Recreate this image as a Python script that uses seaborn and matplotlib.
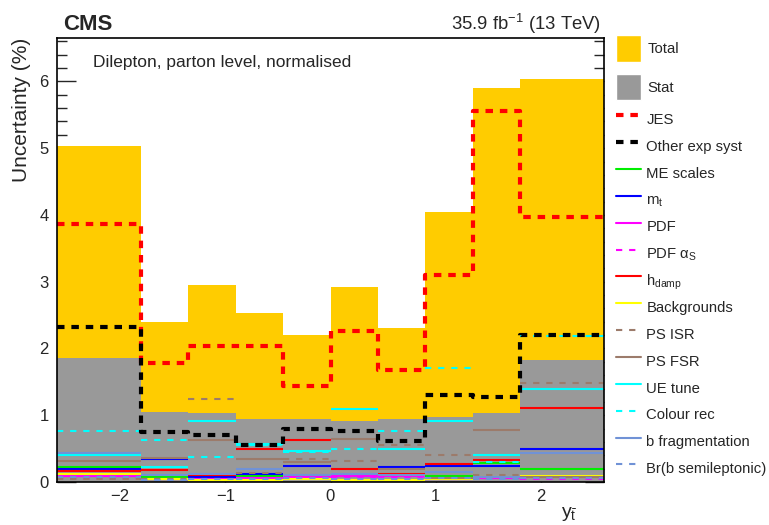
import numpy as np
import seaborn as sns
import matplotlib.pyplot as plt
from matplotlib.patches import Patch
from matplotlib.lines import Line2D

# bin edges of y(tbar) and per-bin uncertainties (%)
edges = [-2.6, -1.8, -1.35, -0.9, -0.45, 0.0, 0.45, 0.9, 1.35, 1.8, 2.6]

total = [5.03, 2.40, 2.95, 2.53, 2.20, 2.92, 2.30, 4.05, 5.90, 6.04]
stat = [1.85, 1.05, 1.03, 0.94, 0.94, 0.92, 0.94, 0.97, 1.03, 1.83]
jes = [3.86, 1.78, 2.03, 2.03, 1.44, 2.26, 1.67, 3.10, 5.56, 3.97]
other_exp = [2.32, 0.75, 0.70, 0.56, 0.80, 0.77, 0.62, 1.31, 1.28, 2.20]
me_scales = [0.22, 0.07, 0.05, 0.085, 0.085, 0.10, 0.035, 0.095, 0.29, 0.195]
m_top = [0.20, 0.35, 0.08, 0.125, 0.245, 0.095, 0.225, 0.235, 0.24, 0.50]
pdf = [0.09, 0.04, 0.05, 0.06, 0.07, 0.09, 0.09, 0.05, 0.06, 0.07]
pdf_alphas = [0.065, 0.05, 0.04, 0.065, 0.085, 0.07, 0.08, 0.04, 0.06, 0.05]
hdamp = [0.16, 0.18, 0.10, 0.49, 0.63, 0.195, 0.125, 0.275, 0.33, 1.11]
backgrounds = [0.12, 0.05, 0.03, 0.03, 0.04, 0.03, 0.035, 0.04, 0.08, 0.085]
ps_isr = [0.05, 0.05, 1.24, 0.14, 0.35, 0.32, 0.56, 0.40, 0.10, 1.48]
ps_fsr = [0.31, 0.36, 0.63, 0.34, 0.30, 0.64, 0.195, 0.06, 0.78, 0.07]
ue_tune = [0.40, 0.23, 0.91, 0.57, 0.46, 1.09, 0.50, 0.91, 0.40, 1.39]
colour_rec = [0.76, 0.63, 0.38, 0.55, 0.45, 0.49, 0.76, 1.70, 0.30, 2.19]
b_frag = [0.43, 0.10, 0.12, 0.20, 0.10, 0.12, 0.10, 0.15, 0.08, 0.43]
br_semilep = [0.08, 0.03, 0.04, 0.05, 0.06, 0.05, 0.05, 0.06, 0.04, 0.06]

centers = 0.5 * (np.array(edges[:-1]) + np.array(edges[1:]))

sns.set_style("ticks")
plt.rcParams['font.family'] = ['Liberation Sans', 'DejaVu Sans']
plt.rcParams['mathtext.fontset'] = 'custom'
plt.rcParams['mathtext.rm'] = 'Liberation Sans'
plt.rcParams['mathtext.it'] = 'Liberation Sans:italic'

fig = plt.figure(figsize=(7.69, 5.25), dpi=100)
ax = fig.add_axes([57 / 769, 43 / 525, 547 / 769, 444 / 525])

brown = '#9c7b6b'
lblue = '#7092d6'
thin_dash = (3, 3.3)
thick_dash = (1.8, 1.65)

# filled bands
sns.histplot(x=centers, weights=total, bins=edges, element='step', fill=True,
             color='#ffcc00', alpha=1, linewidth=0, ax=ax)
sns.histplot(x=centers, weights=stat, bins=edges, element='step', fill=True,
             color='#999999', alpha=1, linewidth=0, ax=ax)

# (values, colour, dashed?, label)
thin = [
    (me_scales, '#00ee00', False, 'ME scales'),
    (m_top, '#0000ff', False, r'm$_{\mathrm{t}}$'),
    (pdf, '#ff00ff', False, 'PDF'),
    (pdf_alphas, '#ff00ff', True, r'PDF α$_{\mathrm{S}}$'),
    (hdamp, '#ff0000', False, r'h$_{\mathrm{damp}}$'),
    (backgrounds, '#ffff00', False, 'Backgrounds'),
    (ps_isr, brown, True, 'PS ISR'),
    (ps_fsr, brown, False, 'PS FSR'),
    (ue_tune, '#00ffff', False, 'UE tune'),
    (colour_rec, '#00ffff', True, 'Colour rec'),
    (b_frag, lblue, False, 'b fragmentation'),
    (br_semilep, lblue, True, 'Br(b semileptonic)'),
]

# thin systematics: flat segments per bin, no vertical connectors
for vals, col, dashed, lab in thin:
    ls = (0, thin_dash) if dashed else 'solid'
    ax.hlines(vals, edges[:-1], edges[1:], colors=col, linewidth=1.5, linestyles=ls)

sns.histplot(x=centers, weights=jes, bins=edges, element='step', fill=False,
             color='#ff0000', linewidth=3, dashes=thick_dash, ax=ax)
sns.histplot(x=centers, weights=other_exp, bins=edges, element='step', fill=False,
             color='#000000', linewidth=3, dashes=thick_dash, ax=ax)

ax.set_xlim(-2.6, 2.6)
ax.set_ylim(0, 6.65)
ax.set_xticks([-2, -1, 0, 1, 2])
ax.set_yticks(range(0, 7))
ax.set_yticks(np.arange(0, 6.65, 0.2), minor=True)
ax.tick_params(axis='y', which='both', direction='in', left=True, right=True, labelsize=12, pad=6)
ax.tick_params(axis='y', which='major', length=14, width=1)
ax.tick_params(axis='y', which='minor', length=7, width=1)
ax.tick_params(axis='x', which='major', direction='in', length=9, width=1, labelsize=12, pad=5)
for sp in ax.spines.values():
    sp.set_visible(True)
    sp.set_linewidth(1.2)
    sp.set_color('black')

ax.set_ylabel('Uncertainty (%)', fontsize=15, loc='top')
ax.yaxis.set_label_coords(-0.047, 1.0)
ax.set_xlabel(r'y$_{\bar{\mathrm{t}}}$', fontsize=14, ha='right')
ax.xaxis.set_label_coords(0.951, -0.052)

fig.text(63 / 769, 1 - 25 / 525, 'CMS', fontsize=16, fontweight='bold', va='center')
fig.text(601 / 769, 1 - 24 / 525, r'35.9 fb$^{-1}$ (13 TeV)', fontsize=13.3, ha='right', va='center')
fig.text(93 / 769, 1 - 62 / 525, 'Dilepton, parton level, normalised', fontsize=12.5, va='center')

# legends
bands = [Patch(facecolor='#ffcc00', label='Total'), Patch(facecolor='#999999', label='Stat')]
fig.legend(handles=bands, loc='upper left', bbox_to_anchor=(616 / 769, 1 - 35 / 525),
           frameon=False, fontsize=10.7, handlelength=1.7, handleheight=2.39,
           labelspacing=0.8, handletextpad=0.4, borderpad=0, borderaxespad=0)

lines = [Line2D([], [], color='#ff0000', linewidth=3, dashes=thick_dash, label='JES'),
         Line2D([], [], color='#000000', linewidth=3, dashes=thick_dash, label='Other exp syst')]
for vals, col, dashed, lab in thin:
    if dashed:
        lines.append(Line2D([], [], color=col, linewidth=1.5, dashes=thin_dash, label=lab))
    else:
        lines.append(Line2D([], [], color=col, linewidth=1.5, label=lab))
fig.legend(handles=lines, loc='upper left', bbox_to_anchor=(616 / 769, 1 - 106.5 / 525),
           frameon=False, fontsize=10.7, handlelength=1.65, handleheight=2.3,
           labelspacing=0.067, handletextpad=0.4, borderpad=0, borderaxespad=0)

fig.savefig('out.png', dpi=100)
